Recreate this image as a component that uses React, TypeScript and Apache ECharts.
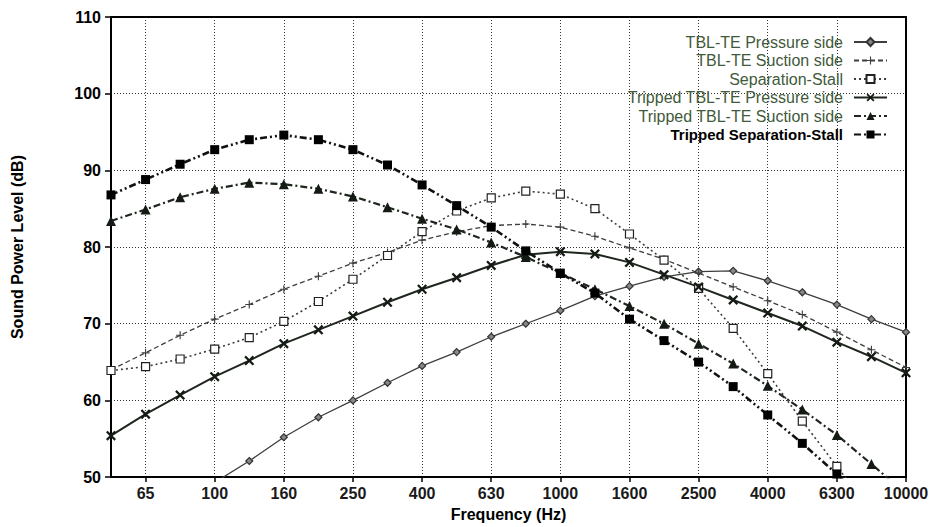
import React, { useEffect, useRef } from "react";
import * as echarts from "echarts";

const categories = ["50","65","80","100","125","160","200","250","315","400","500","630","800","1000","1250","1600","2000","2500","3150","4000","5000","6300","8000","10000"];

const tblPressure = [null,null,null,49.3,52.1,55.2,57.8,60.0,62.3,64.5,66.3,68.3,70.0,71.7,73.6,74.9,76.1,76.8,76.9,75.6,74.1,72.5,70.6,68.9];
const tblSuction = [64.0,66.2,68.5,70.6,72.5,74.5,76.2,77.9,79.3,80.9,82.0,82.8,83.0,82.6,81.4,79.9,78.4,76.6,74.8,73.0,71.2,68.9,66.6,64.3];
const sepStall = [63.9,64.4,65.4,66.7,68.2,70.3,72.9,75.8,78.9,82.0,84.7,86.4,87.3,86.9,85.0,81.7,78.3,74.6,69.4,63.5,57.3,51.4,45.5,null];
const trPressure = [55.4,58.2,60.7,63.1,65.2,67.4,69.2,71.0,72.8,74.5,76.0,77.6,79.0,79.4,79.1,78.0,76.4,74.8,73.1,71.4,69.7,67.6,65.7,63.6];
const trSuction = [83.4,84.9,86.5,87.6,88.4,88.2,87.6,86.6,85.2,83.7,82.3,80.6,78.7,76.6,74.5,72.3,70.0,67.4,64.8,61.9,58.8,55.5,51.7,47.8];
const trSepStall = [86.8,88.8,90.8,92.7,94.0,94.6,94.0,92.7,90.7,88.1,85.4,82.6,79.5,76.6,74.0,70.6,67.8,65.0,61.8,58.1,54.4,50.4,46.5,null];

const seriesNames = [
  "TBL-TE Pressure side",
  "TBL-TE Suction side",
  "Separation-Stall",
  "Tripped TBL-TE Pressure side",
  "Tripped TBL-TE Suction side",
  "Tripped Separation-Stall",
];

const PLUS = "path://M4.3,0H5.7V4.3H10V5.7H5.7V10H4.3V5.7H0V4.3H4.3Z";
const CROSS = "path://M0,1.6L1.6,0L5,3.4L8.4,0L10,1.6L6.6,5L10,8.4L8.4,10L5,6.6L1.6,10L0,8.4L3.4,5Z";

const FONT = "'Liberation Sans', Arial, Helvetica, sans-serif";
const labelEvery = (i: number) => i % 2 === 1;

export default function App() {
  const ref = useRef<HTMLDivElement>(null);
  useEffect(() => {
    if (!ref.current) return;
    const chart = echarts.init(ref.current, null, { renderer: "svg" });
    const grey = "#3c3f3c";
    const dark = "#141a14";
    const mk = (
      name: string,
      data: (number | null)[],
      symbol: string,
      symbolSize: number,
      lineColor: string,
      width: number,
      dash: any,
      fill: string,
      border?: string
    ) => ({
      type: "line",
      name,
      data,
      symbol,
      symbolSize,
      showAllSymbol: true,
      clip: true,
      connectNulls: false,
      lineStyle: { color: lineColor, width, type: dash },
      itemStyle: border
        ? { color: fill, borderColor: border, borderWidth: 1.2 }
        : { color: fill, borderWidth: 0 },
      emphasis: { disabled: true },
    });
    const legendColor = "#3f5a3b";
    chart.setOption({
      animation: false,
      backgroundColor: "#ffffff",
      textStyle: { fontFamily: FONT },
      grid: { left: 111, right: 33, top: 17, bottom: 44, containLabel: false },
      legend: {
        orient: "vertical",
        right: 51,
        top: 33,
        align: "right",
        padding: 0,
        itemGap: 0.5,
        itemWidth: 33,
        itemHeight: 10,
        textStyle: {
          fontFamily: FONT,
          fontSize: 16,
          lineHeight: 18,
          padding: [0, 6, 0, 0],
          color: legendColor,
        },
        data: seriesNames.map((n, i) => ({
          name: n,
          textStyle: {
            color: i === 5 ? "#000" : legendColor,
            fontWeight: i === 5 ? "bold" : "normal",
            fontSize: i === 5 ? 15 : 16,
          },
        })),
      },
      xAxis: [
        {
          type: "category",
          data: categories,
          boundaryGap: false,
          name: "Frequency (Hz)",
          nameLocation: "middle",
          nameGap: 25,
          nameTextStyle: { fontFamily: FONT, fontSize: 16, fontWeight: "bold", color: "#000" },
          axisLine: { show: true, lineStyle: { color: "#000", width: 2 } },
          axisTick: { show: true, interval: labelEvery, length: 5, lineStyle: { color: "#000", width: 1.5 } },
          axisLabel: { interval: labelEvery, margin: 8, fontFamily: FONT, fontSize: 16, fontWeight: "bold", color: "#1a1a1a" },
          splitLine: { show: true, interval: labelEvery, lineStyle: { color: "#333", width: 1, type: [1, 2] } },
        },
        {
          type: "category",
          data: categories,
          boundaryGap: false,
          position: "top",
          axisLine: { show: true, lineStyle: { color: "#000", width: 2 } },
          axisTick: { show: false },
          axisLabel: { show: false },
          splitLine: { show: false },
        },
      ],
      yAxis: [
        {
          type: "value",
          min: 50,
          max: 110,
          interval: 10,
          name: "Sound Power Level (dB)",
          nameLocation: "middle",
          nameGap: 86,
          nameTextStyle: { fontFamily: FONT, fontSize: 16, fontWeight: "bold", color: "#000" },
          axisLine: { show: true, lineStyle: { color: "#000", width: 2 } },
          axisTick: { show: true, length: 6, lineStyle: { color: "#000", width: 1.5 } },
          axisLabel: { margin: 10, fontFamily: FONT, fontSize: 16, fontWeight: "bold", color: "#000" },
          splitLine: { show: true, lineStyle: { color: "#333", width: 1, type: [1, 2] } },
        },
        {
          type: "value",
          min: 50,
          max: 110,
          interval: 10,
          position: "right",
          axisLine: { show: true, lineStyle: { color: "#000", width: 2 } },
          axisTick: { show: false },
          axisLabel: { show: false },
          splitLine: { show: false },
        },
      ],
      series: [
        mk(seriesNames[0], tblPressure, "diamond", 7, grey, 1.3, "solid", "#888", "#333"),
        mk(seriesNames[1], tblSuction, PLUS, 8, grey, 1.3, [5, 3], grey),
        mk(seriesNames[2], sepStall, "rect", 8, grey, 1.6, [2, 3], "#ffffff", "#222"),
        mk(seriesNames[3], trPressure, CROSS, 10, "#1e261e", 2, "solid", dark),
        mk(seriesNames[4], trSuction, "triangle", 10, "#1e261e", 2.2, [7, 3, 2, 3], dark),
        mk(seriesNames[5], trSepStall, "rect", 9, "#111", 2.6, [7, 3, 2, 3, 2, 3], "#000"),
      ],
    });
    return () => chart.dispose();
  }, []);
  return (
    <div
      ref={ref}
      style={{ position: "fixed", left: 0, top: 0, width: 939, height: 527, background: "#fff" }}
    />
  );
}
